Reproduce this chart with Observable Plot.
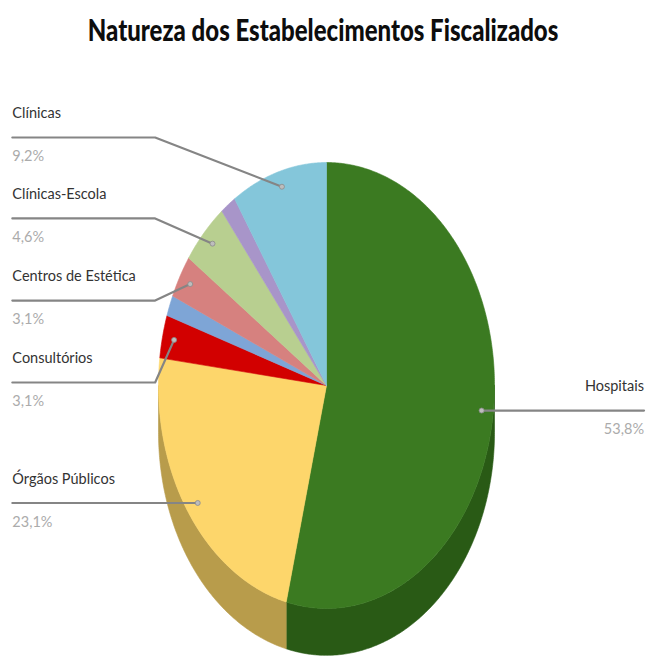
<!DOCTYPE html>
<html><head><meta charset="utf-8">
<script src="https://cdn.jsdelivr.net/npm/d3@7"></script>
<script src="https://cdn.jsdelivr.net/npm/@observablehq/plot@0.6"></script>
<style>
body{margin:0;background:#fff;}
#title{height:70px;box-sizing:border-box;padding-top:9px;line-height:40px;text-align:center;font-family:Lato,"Open Sans",sans-serif;font-weight:900;font-size:30px;color:#0d0d0d;white-space:nowrap;}
#title span{display:inline-block;transform:scaleX(0.8);transform-origin:50% 50%;}
#chart svg{display:block;}
</style></head><body>
<div id="title"><span>Natureza dos Estabelecimentos Fiscalizados</span></div>
<div id="chart"></div>
<script>
// ---- data ----
const categories = ["Hospitais","Órgãos Públicos","Consultórios","Outros (1)","Centros de Estética","Clínicas-Escola","Outros (2)","Clínicas"];
const values = [53.8, 23.1, 3.1, 1.5, 3.1, 4.6, 1.5, 9.2];
const percentLabels = ["53,8%","23,1%","3,1%","","3,1%","4,6%","","9,2%"];
const showLabel = [true, true, true, false, true, true, false, true];
const topColors = ["#3b7a21","#fdd66b","#d20000","#7ea5d6","#d6817f","#b8cf90","#a895c9","#84c6da"];
const sideColors = ["#295a15","#b89c4b","#8c0000","#56759a","#98595a","#82935f","#776a8f","#5c8c9b"];

// ---- layout (unit-radius pie space) ----
const depth = 0.21;          // thickness of the 3D side
const anchorR = 0.93;        // where leader lines touch the slices
const leftX = -1.87, elbowX = -1.02, rightX = 1.89;
// left label rows (leader line heights); null = straight line at anchor height
const rowY = {"Clínicas": 1.112, "Clínicas-Escola": 0.749, "Centros de Estética": 0.381, "Consultórios": 0.0135, "Órgãos Públicos": null, "Hospitais": null};

const W = 646, H = 587;
const cxPx = 326, cyPx = 315, rxPx = 168, ryPx = 223;

const arcs = d3.pie().sort(null).value(d => d)(values);
const rad = Math.PI / 180;

function arcPts(a0, a1, dy = 0) {
  const n = Math.max(2, Math.ceil((a1 - a0) / (0.5 * rad)));
  const pts = [];
  for (let k = 0; k <= n; k++) {
    const a = a0 + (a1 - a0) * k / n;
    pts.push([Math.sin(a), Math.cos(a) + dy]);
  }
  return pts;
}

const topFaces = [], sides = [];
arcs.forEach((a, i) => {
  const pts = [[0, 0], ...arcPts(a.startAngle, a.endAngle), [0, 0]];
  pts.forEach(([x, y]) => topFaces.push({x, y, i}));
  const s0 = Math.max(a.startAngle, Math.PI / 2), s1 = Math.min(a.endAngle, 3 * Math.PI / 2);
  if (s1 > s0) {
    const up = arcPts(s0, s1), down = arcPts(s0, s1, -depth).reverse();
    [...up, ...down, up[0]].forEach(([x, y]) => sides.push({x, y, i}));
  }
});

const labels = [], leaders = [], anchors = [];
arcs.forEach((a, i) => {
  if (!showLabel[i]) return;
  const mid = (a.startAngle + a.endAngle) / 2;
  const ax = anchorR * Math.sin(mid), ay = anchorR * Math.cos(mid);
  const right = ax > 0;
  const ry = rowY[categories[i]];
  const ly = ry == null ? ay : ry;
  const tx = right ? rightX : leftX;
  anchors.push({x: ax, y: ay});
  const path = ry == null ? [[tx, ly], [ax, ay]] : [[tx, ly], [elbowX, ly], [ax, ay]];
  path.forEach(([x, y]) => leaders.push({x, y, i}));
  labels.push({x: tx, y: ly, name: categories[i], pct: percentLabels[i], right});
});
const leftLabels = labels.filter(d => !d.right), rightLabels = labels.filter(d => d.right);

const font = "Lato, 'Open Sans', sans-serif";
const txt = (data, field, anchor, dy, fill) =>
  Plot.text(data, {x: "x", y: "y", text: field, textAnchor: anchor, dy, fontSize: 14.5, fill, fontFamily: font});

const chart = Plot.plot({
  width: W, height: H,
  margin: 0,
  x: {domain: [(0 - cxPx) / rxPx, (W - cxPx) / rxPx], axis: null},
  y: {domain: [(cyPx - H) / ryPx, cyPx / ryPx], axis: null},
  style: {background: "#fff"},
  marks: [
    Plot.line(sides, {x: "x", y: "y", z: "i", fill: d => sideColors[d.i], stroke: d => sideColors[d.i], strokeWidth: 0.6, curve: "linear"}),
    Plot.line(topFaces, {x: "x", y: "y", z: "i", fill: d => topColors[d.i], stroke: d => topColors[d.i], strokeWidth: 0.6, curve: "linear"}),
    Plot.line(leaders, {x: "x", y: "y", z: "i", stroke: "#858585", strokeWidth: 2.2, curve: "linear"}),
    Plot.dot(anchors, {x: "x", y: "y", r: 2.5, fill: "#bdbdbd", stroke: "#8a8a8a", strokeWidth: 0.8}),
    txt(leftLabels, "name", "start", -24, "#333333"),
    txt(leftLabels, "pct", "start", 19, "#ababab"),
    txt(rightLabels, "name", "end", -24, "#333333"),
    txt(rightLabels, "pct", "end", 19, "#ababab")
  ]
});
document.getElementById("chart").append(chart);
</script>
</body></html>
